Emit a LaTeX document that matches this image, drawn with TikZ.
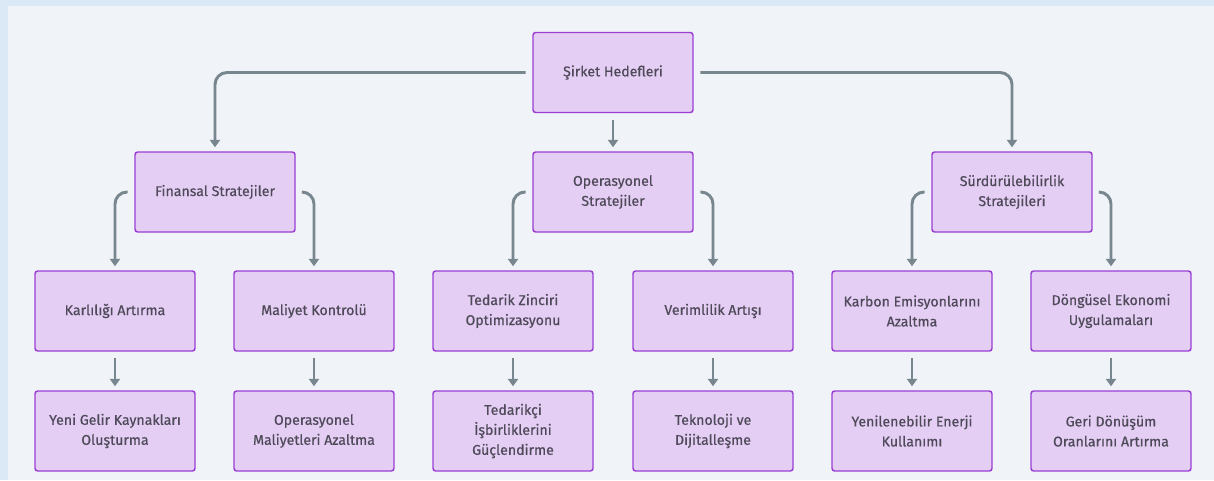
\documentclass[tikz,border=0pt]{standalone}
\usepackage{fontspec}
\setmainfont{Fira Sans}[FakeBold=0.5]
\usetikzlibrary{arrows.meta}
\definecolor{boxfill}{HTML}{E4CEF4}
\definecolor{boxline}{HTML}{9B3FD4}
\definecolor{linkgray}{HTML}{77868F}
\definecolor{txtgray}{HTML}{4F4A5A}
\definecolor{bgouter}{HTML}{DBE8F6}
\definecolor{bginner}{HTML}{F0F3F7}
\tikzset{
  box/.style={draw=boxline,fill=boxfill,line width=1.1pt,rounded corners=2pt,
    minimum width=120pt,minimum height=60pt,align=center,text=txtgray,
    font=\fontsize{10.6}{15}\selectfont},
  link/.style={draw=linkgray,line width=2.2pt,rounded corners=9pt,
    -{Triangle[width=7.5pt,length=5.5pt]},shorten <=5pt,shorten >=3pt}
}
\begin{document}
\begin{tikzpicture}[x=0.75pt,y=-0.75pt]
  \fill[bgouter] (0,0) rectangle (1214,480);
  \fill[bginner] (8,6) rectangle (1214,480);
  \useasboundingbox (0,0) rectangle (1214,480);

  \node[box] (sirket) at (613,72.5) {Şirket Hedefleri};

  \node[box] (finans) at (215,192) {Finansal Stratejiler};
  \node[box] (operas) at (613,192) {Operasyonel\\Stratejiler};
  \node[box] (surdur) at (1012,192) {Sürdürülebilirlik\\Stratejileri};

  \node[box] (karlilik) at (115,311) {Karlılığı Artırma};
  \node[box] (maliyet) at (314,311) {Maliyet Kontrolü};
  \node[box] (tedarik) at (513,311) {Tedarik Zinciri\\Optimizasyonu};
  \node[box] (verim) at (713,311) {Verimlilik Artışı};
  \node[box] (karbon) at (912,311) {Karbon Emisyonlarını\\Azaltma};
  \node[box] (dongu) at (1111,311) {Döngüsel Ekonomi\\Uygulamaları};

  \node[box] (gelir) at (115,431) {Yeni Gelir Kaynakları\\Oluşturma};
  \node[box] (opmal) at (314,431) {Operasyonel\\Maliyetleri Azaltma};
  \node[box] (isbir) at (513,431) {Tedarikçi\\İşbirliklerini\\Güçlendirme};
  \node[box] (tekno) at (713,431) {Teknoloji ve\\Dijitalleşme};
  \node[box] (yenen) at (912,431) {Yenilenebilir Enerji\\Kullanımı};
  \node[box] (geri) at (1111,431) {Geri Dönüşüm\\Oranlarını Artırma};

  \draw[link] (sirket.west) -| (finans.north);
  \draw[link] (sirket.south) -- (operas.north);
  \draw[link] (sirket.east) -| (surdur.north);

  \draw[link] (finans.west) -| (karlilik.north);
  \draw[link] (finans.east) -| (maliyet.north);
  \draw[link] (operas.west) -| (tedarik.north);
  \draw[link] (operas.east) -| (verim.north);
  \draw[link] (surdur.west) -| (karbon.north);
  \draw[link] (surdur.east) -| (dongu.north);

  \foreach \a/\b in {karlilik/gelir,maliyet/opmal,tedarik/isbir,verim/tekno,karbon/yenen,dongu/geri}
    \draw[link] (\a.south) -- (\b.north);
\end{tikzpicture}
\end{document}
